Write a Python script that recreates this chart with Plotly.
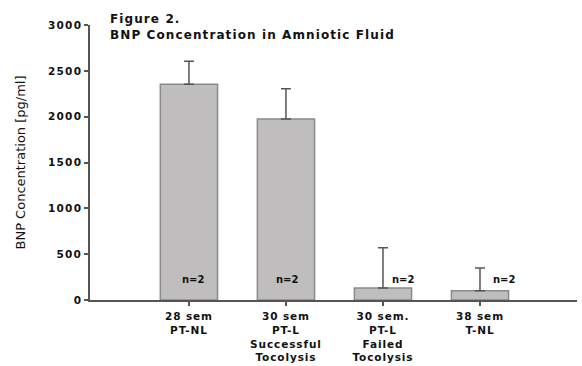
import plotly.graph_objects as go

categories = ["28 sem<br>PT-NL", "30 sem<br>PT-L<br>Successful<br>Tocolysis",
              "30 sem.<br>PT-L<br>Failed<br>Tocolysis", "38 sem<br>T-NL"]
means = [2355, 1975, 130, 100]
err_plus = [250, 330, 440, 250]
n_labels = ["n=2", "n=2", "n=2", "n=2"]
n_label_shift = [4, 1, 20, 24]
y_ticks = [0, 500, 1000, 1500, 2000, 2500, 3000]

FONT = "DejaVu Sans, Verdana, sans-serif"
AX = "#555555"


def wide(s, sp):
    return "<br>".join(f'<span style="letter-spacing:{sp}px">{p}</span>' for p in s.split("<br>"))


fig = go.Figure()
fig.add_trace(go.Bar(
    x=list(range(len(categories))), y=means, width=0.59,
    marker=dict(color="#bfbdbd", line=dict(color="#8a8a8a", width=1.5)),
    error_y=dict(type="data", symmetric=False, array=err_plus, arrayminus=[0]*4,
                 color="#555555", thickness=1.5, width=5),
))

for i, (lab, sh) in enumerate(zip(n_labels, n_label_shift)):
    fig.add_annotation(x=i, y=220, text=f"<b>{lab}</b>", showarrow=False,
                       xshift=sh, font=dict(family=FONT, size=10, color="#111"))

fig.update_layout(
    width=582, height=366,
    margin=dict(l=90, r=5, t=25, b=66),
    paper_bgcolor="white", plot_bgcolor="white",
    showlegend=False,
    font=dict(family=FONT, color="#111"),
    annotations=list(fig.layout.annotations) + [
        dict(text="<b>" + wide("Figure 2.<br>BNP Concentration in Amniotic Fluid", 1.1) + "</b>",
             xref="paper", yref="paper", x=0.037, y=1.055, xanchor="left", yanchor="top",
             align="left", showarrow=False, font=dict(family=FONT, size=12, color="#111")),
    ],
)
fig.update_xaxes(range=[-1.02, 4.0], showline=True, linecolor=AX, linewidth=1.5,
                 tickvals=list(range(len(categories))),
                 ticktext=[wide(c, 0.9) for c in categories],
                 ticks="outside", ticklen=4, tickcolor=AX, tickwidth=1.5,
                 ticklabelstandoff=2, automargin=False,
                 showgrid=False, zeroline=False,
                 tickfont=dict(family=FONT, size=10.5, color="#111", weight="bold"))
fig.update_yaxes(range=[0, 3000], tickvals=y_ticks,
                 ticktext=[wide(str(v), 1.2) for v in y_ticks],
                 showline=True, linecolor=AX, linewidth=1.5,
                 ticks="outside", ticklen=4, tickcolor=AX, tickwidth=1.5,
                 showgrid=False, zeroline=False, automargin=False,
                 tickfont=dict(family=FONT, size=10.5, color="#111", weight="bold"),
                 title=dict(text="BNP Concentration [pg/ml]", standoff=20,
                            font=dict(family=FONT, size=13, color="#111")))

fig.write_html("out.html")
